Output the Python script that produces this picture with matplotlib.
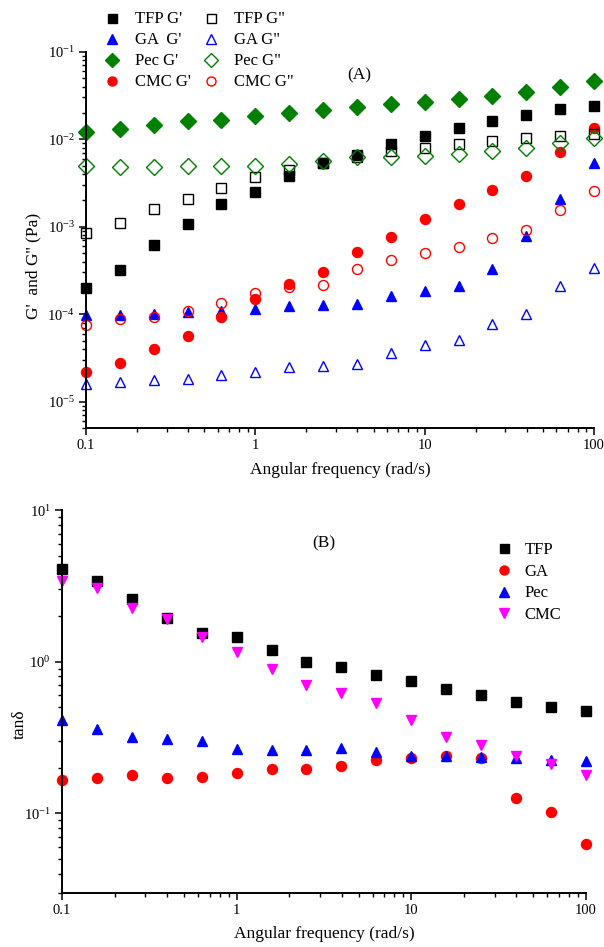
import matplotlib
matplotlib.use("Agg")
import matplotlib.pyplot as plt
import matplotlib.ticker as mticker
import numpy as np

plt.rcParams['font.family'] = ['Liberation Serif', 'DejaVu Serif']
plt.rcParams['mathtext.fontset'] = 'stix'
plt.rcParams['font.size'] = 11

# angular frequency (rad/s), 5 points per decade
freq = [0.1, 0.158, 0.251, 0.398, 0.631, 1.0, 1.585, 2.512, 3.981, 6.31,
        10.0, 15.85, 25.12, 39.81, 63.1, 100.0]

# panel A: moduli (Pa)
tfp_g1 = [2.0e-4, 3.2e-4, 6.1e-4, 1.08e-3, 1.8e-3, 2.5e-3, 3.8e-3, 5.3e-3,
          6.6e-3, 8.7e-3, 1.08e-2, 1.35e-2, 1.6e-2, 1.9e-2, 2.2e-2, 2.4e-2]
tfp_g2 = [8.5e-4, 1.1e-3, 1.6e-3, 2.1e-3, 2.8e-3, 3.7e-3, 4.5e-3, 5.3e-3,
          6.3e-3, 7.3e-3, 8.0e-3, 8.9e-3, 9.6e-3, 1.02e-2, 1.1e-2, 1.15e-2]
ga_g1 = [9.8e-5, 9.9e-5, 1.0e-4, 1.05e-4, 1.1e-4, 1.15e-4, 1.25e-4, 1.28e-4,
         1.32e-4, 1.6e-4, 1.85e-4, 2.1e-4, 3.3e-4, 7.8e-4, 2.05e-3, 5.3e-3]
ga_g2 = [1.6e-5, 1.7e-5, 1.75e-5, 1.8e-5, 2.0e-5, 2.2e-5, 2.5e-5, 2.55e-5,
         2.7e-5, 3.6e-5, 4.4e-5, 5.1e-5, 7.7e-5, 1.0e-4, 2.1e-4, 3.4e-4]
pec_g1 = [1.2e-2, 1.3e-2, 1.45e-2, 1.6e-2, 1.65e-2, 1.85e-2, 2.0e-2, 2.15e-2,
          2.35e-2, 2.5e-2, 2.65e-2, 2.85e-2, 3.15e-2, 3.5e-2, 4.0e-2, 4.6e-2]
pec_g2 = [4.9e-3, 4.8e-3, 4.8e-3, 4.9e-3, 5.0e-3, 5.0e-3, 5.2e-3, 5.6e-3,
          6.2e-3, 6.3e-3, 6.4e-3, 6.7e-3, 7.3e-3, 8.0e-3, 9.0e-3, 1.03e-2]
cmc_g1 = [2.2e-5, 2.8e-5, 4.0e-5, 5.6e-5, 9.2e-5, 1.48e-4, 2.2e-4, 3.0e-4,
          5.2e-4, 7.7e-4, 1.22e-3, 1.8e-3, 2.6e-3, 3.8e-3, 7.2e-3, 1.35e-2]
cmc_g2 = [7.5e-5, 8.7e-5, 9.3e-5, 1.08e-4, 1.35e-4, 1.75e-4, 2.05e-4, 2.15e-4,
          3.3e-4, 4.2e-4, 5.0e-4, 5.9e-4, 7.4e-4, 9.2e-4, 1.57e-3, 2.55e-3]

# panel B: loss tangent
tfp_tan = [4.1, 3.4, 2.6, 1.95, 1.55, 1.45, 1.2, 1.0, 0.92, 0.82, 0.74, 0.66,
           0.6, 0.54, 0.5, 0.47]
ga_tan = [0.165, 0.172, 0.178, 0.172, 0.174, 0.185, 0.197, 0.197, 0.205,
          0.225, 0.232, 0.24, 0.232, 0.127, 0.102, 0.063]
pec_tan = [0.41, 0.36, 0.32, 0.31, 0.30, 0.265, 0.26, 0.26, 0.27, 0.255,
           0.24, 0.24, 0.235, 0.23, 0.225, 0.22]
cmc_tan = [3.4, 3.05, 2.25, 1.9, 1.45, 1.15, 0.9, 0.7, 0.62, 0.53, 0.41,
           0.32, 0.28, 0.24, 0.21, 0.18]

x_ticks = [0.1, 1, 10, 100]
x_ticklabels = ['0.1', '1', '10', '100']

green = '#008000'
blue = '#0000ff'
red = '#ff0000'
magenta = '#ff00ff'


def pow10(v, pos):
    e = int(round(np.log10(v)))
    return r'$\mathregular{10^{%d}}$' % e


def style_axis(ax, ylim):
    ax.set_xscale('log')
    ax.set_yscale('log')
    ax.set_xlim(0.1, 100)
    ax.set_ylim(*ylim)
    ax.spines['top'].set_visible(False)
    ax.spines['right'].set_visible(False)
    ax.spines['left'].set_linewidth(1.4)
    ax.spines['bottom'].set_linewidth(1.4)
    ax.set_xticks(x_ticks)
    ax.set_xticklabels(x_ticklabels)
    ax.xaxis.set_minor_locator(mticker.LogLocator(base=10, subs=np.arange(2, 10)))
    ax.xaxis.set_minor_formatter(mticker.NullFormatter())
    ax.yaxis.set_major_locator(mticker.LogLocator(base=10, numticks=10))
    ax.yaxis.set_major_formatter(mticker.FuncFormatter(pow10))
    ax.yaxis.set_minor_locator(mticker.LogLocator(base=10, subs=np.arange(2, 10), numticks=10))
    ax.yaxis.set_minor_formatter(mticker.NullFormatter())
    ax.tick_params(which='major', direction='out', length=5, width=1.1, labelsize=10.5, pad=3)
    ax.tick_params(which='minor', direction='out', length=3.2, width=1.0)
    ax.set_xlabel('Angular frequency (rad/s)', fontsize=12.5, labelpad=7)


fig = plt.figure(figsize=(6.04, 9.47), dpi=100)

# ---- panel A ----
ax1 = fig.add_axes([0.1424, 0.548, 0.8411, 0.3974])
ms = 7.2
ax1.plot(freq, tfp_g1, 's', color='black', ms=ms, label="TFP G'", clip_on=False)
ax1.plot(freq, ga_g1, '^', color=blue, ms=ms + 0.5, label="GA  G'", clip_on=False)
ax1.plot(freq, pec_g1, 'D', color=green, ms=ms + 0.6, label="Pec G'", clip_on=False)
ax1.plot(freq, cmc_g1, 'o', color=red, ms=ms, label="CMC G'", clip_on=False)
ax1.plot(freq, tfp_g2, 's', mfc='none', mec='black', mew=1, ms=ms, label='TFP G"', clip_on=False)
ax1.plot(freq, ga_g2, '^', mfc='none', mec=blue, mew=1, ms=ms + 0.5, label='GA G"', clip_on=False)
ax1.plot(freq, pec_g2, 'D', mfc='none', mec=green, mew=1, ms=ms + 0.6, label='Pec G"', clip_on=False)
ax1.plot(freq, cmc_g2, 'o', mfc='none', mec=red, mew=1, ms=ms, label='CMC G"', clip_on=False)
style_axis(ax1, (5e-6, 1e-1))
ax1.set_ylabel("G'  and G'' (Pa)", fontsize=12.5)
ax1.yaxis.set_label_coords(-0.088, 0.43)
fig.text(359 / 604, 1 - 75 / 947, '(A)', ha='center', va='center', fontsize=12.5)
fig.legend(*ax1.get_legend_handles_labels(), ncol=2, frameon=False,
           loc='upper left', bbox_to_anchor=(0.172, 0.988),
           handlelength=1.0, handletextpad=0.85, columnspacing=0.75,
           labelspacing=0.3, fontsize=12, borderaxespad=0, borderpad=0,
           markerscale=0.9)

# ---- panel B ----
ax2 = fig.add_axes([0.1026, 0.0575, 0.8675, 0.4039])
ax2.plot(freq, tfp_tan, 's', color='black', ms=ms, label='TFP', clip_on=False)
ax2.plot(freq, ga_tan, 'o', color=red, ms=ms, label='GA', clip_on=False)
ax2.plot(freq, pec_tan, '^', color=blue, ms=ms + 0.5, label='Pec', clip_on=False)
ax2.plot(freq, cmc_tan, 'v', color=magenta, ms=ms + 0.5, label='CMC', clip_on=False)
style_axis(ax2, (0.03, 10))
ax2.set_ylabel('tanδ', fontsize=12.5)
ax2.yaxis.set_label_coords(-0.066, 0.44)
fig.text(323.6 / 604, 1 - 543.6 / 947, '(B)', ha='center', va='center', fontsize=12.5)
fig.legend(*ax2.get_legend_handles_labels(), frameon=False,
           loc='upper left', bbox_to_anchor=(0.82, 0.428),
           handlelength=1.0, handletextpad=0.75, labelspacing=0.35,
           fontsize=12, borderaxespad=0, borderpad=0, markerscale=0.9)

fig.savefig('out.png', dpi=100)
